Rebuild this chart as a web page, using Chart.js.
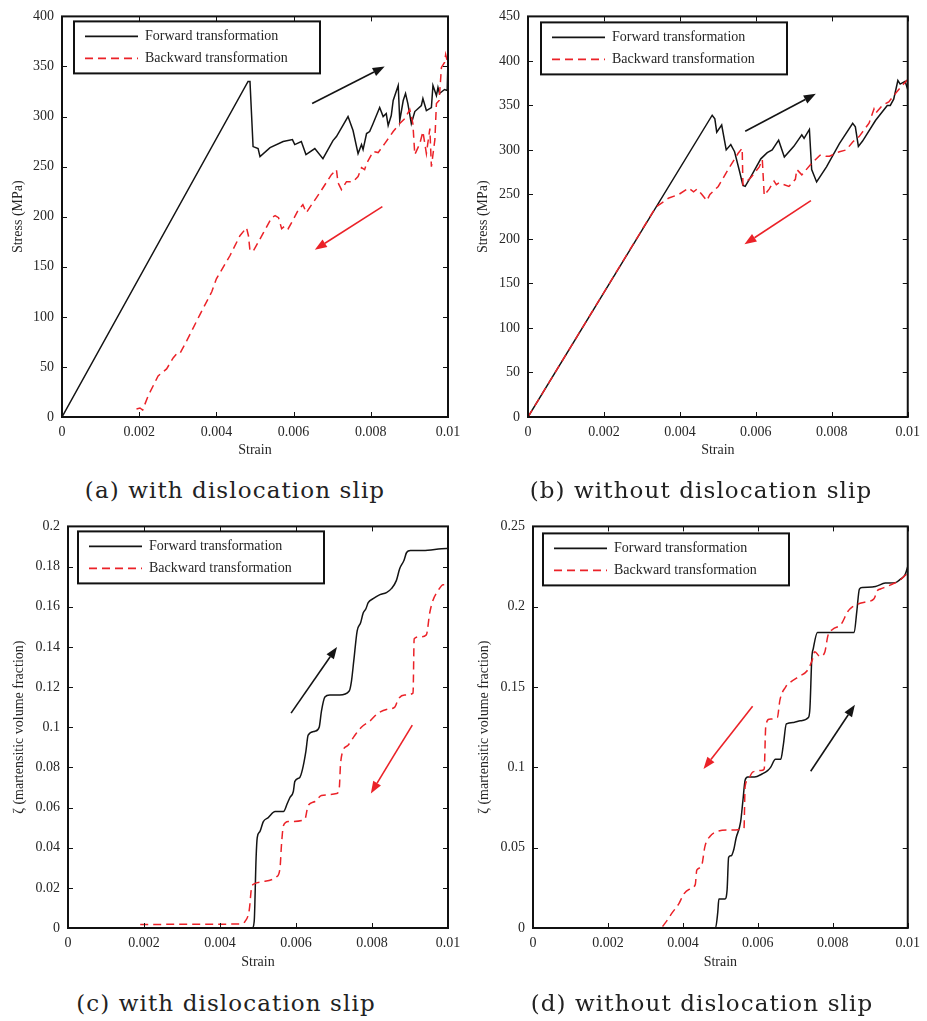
<!DOCTYPE html>
<html>
<head>
<meta charset="utf-8">
<script src="https://cdn.jsdelivr.net/npm/chart.js@4.4.1/dist/chart.umd.min.js"></script>
<style>
  body { margin: 0; background: #fff; }
  #page { position: relative; width: 927px; height: 1021px; overflow: hidden; }
  canvas { position: absolute; }
  .caption {
    position: absolute; width: 440px; text-align: center;
    font-family: 'DejaVu Serif', serif; font-size: 23px; letter-spacing: 1.1px; color: #222;
    line-height: 28px;
  }
</style>
</head>
<body>
<div id="page">
  <canvas id="chartA" width="468" height="470" style="left:0px;top:0px"></canvas>
  <canvas id="chartB" width="461" height="470" style="left:466px;top:0px"></canvas>
  <canvas id="chartC" width="468" height="470" style="left:0px;top:510px"></canvas>
  <canvas id="chartD" width="461" height="470" style="left:466px;top:510px"></canvas>
  <div class="caption" style="left:15px;top:476px">(a) with dislocation slip</div>
  <div class="caption" style="left:481px;top:476px">(b) without dislocation slip</div>
  <div class="caption" style="left:6px;top:989px">(c) with dislocation slip</div>
  <div class="caption" style="left:482px;top:989px">(d) without dislocation slip</div>
</div>
<script>
// --- data ---
const strainTicks = [0, 0.002, 0.004, 0.006, 0.008, 0.01];
const stressTicksA = [0, 50, 100, 150, 200, 250, 300, 350, 400];
const stressTicksB = [0, 50, 100, 150, 200, 250, 300, 350, 400, 450];
const zetaTicksC = [0, 0.02, 0.04, 0.06, 0.08, 0.1, 0.12, 0.14, 0.16, 0.18, 0.2];
const zetaTicksD = [0, 0.05, 0.1, 0.15, 0.2, 0.25];

const legendLabels = ['Forward transformation', 'Backward transformation'];

// (a) stress, with dislocation slip
const aFwdX = [0, 0.00482, 0.00487, 0.00495, 0.00508, 0.00513, 0.00539, 0.00573, 0.00597, 0.00603,
  0.0062, 0.00632, 0.00655, 0.00676, 0.00702, 0.00711, 0.00741, 0.00754, 0.00767, 0.00776,
  0.0078, 0.00789, 0.00797, 0.00806, 0.00823, 0.00832, 0.0084, 0.00845, 0.00853, 0.00858,
  0.00871, 0.00875, 0.00884, 0.0089, 0.00896, 0.00905, 0.00914, 0.00931, 0.00935, 0.00944,
  0.00957, 0.00961, 0.0097, 0.00974, 0.00978, 0.00991, 0.00998, 0.01];
const aFwdY = [0, 335, 335, 270, 268, 260, 269, 275, 277, 272,
  275, 262, 268, 258, 276, 280, 300, 286, 263, 272,
  267, 283, 285, 293, 309, 300, 303, 291, 301, 316,
  331, 296, 316, 323, 313, 293, 305, 311, 318, 306,
  309, 331, 321, 329, 323, 327, 326, 358];
const aBwdX = [0.00193, 0.00202, 0.00209, 0.00223, 0.00249, 0.00271, 0.00288, 0.00297, 0.00305, 0.00323,
  0.00357, 0.00388, 0.004, 0.00435, 0.00461, 0.00478, 0.00483, 0.00487, 0.00496, 0.00522,
  0.00543, 0.00552, 0.00561, 0.00569, 0.00578, 0.00586, 0.00599, 0.00611, 0.00624, 0.00633,
  0.00645, 0.00668, 0.00698, 0.00711, 0.00715, 0.00724, 0.00737, 0.00754, 0.00767, 0.00776,
  0.00784, 0.00789, 0.00806, 0.00819, 0.00836, 0.00858, 0.00875, 0.00888, 0.00901, 0.00909,
  0.00914, 0.00927, 0.00935, 0.00944, 0.00953, 0.00957, 0.00966, 0.0097, 0.00977, 0.00983,
  0.00991, 0.00994, 0.00997, 0.01];
const aBwdY = [8, 9, 7, 21, 41, 48, 59, 63, 63, 76,
  102, 125, 138, 161, 181, 189, 181, 166, 166, 184,
  199, 201, 199, 188, 191, 188, 197, 206, 212, 204,
  211, 224, 242, 247, 234, 227, 235, 235, 240, 249,
  247, 253, 265, 264, 273, 285, 293, 298, 307, 293,
  262, 273, 285, 263, 288, 250, 277, 313, 316, 349,
  354, 362, 357, 356];

// (b) stress, without dislocation slip
const bFwdX = [0, 0.00485, 0.00492, 0.00497, 0.0051, 0.00522, 0.00534, 0.00544, 0.00557, 0.00566,
  0.00572, 0.00587, 0.00613, 0.0063, 0.00643, 0.0066, 0.00675, 0.007, 0.00721, 0.00727,
  0.00741, 0.00747, 0.0076, 0.00786, 0.0082, 0.00855, 0.00862, 0.0087, 0.00881, 0.00915,
  0.00946, 0.00954, 0.00963, 0.00974, 0.0098, 0.00993, 0.01];
const bFwdY = [0, 339, 335, 320, 328, 300, 306, 298, 276, 260,
  259, 270, 290, 297, 300, 311, 292, 304, 317, 313,
  323, 278, 264, 281, 307, 330, 326, 304, 310, 333,
  350, 350, 357, 378, 374, 377, 368];
const bBwdX = [0, 0.00337, 0.00371, 0.00397, 0.00423, 0.00436, 0.00445, 0.00458, 0.00471, 0.00479,
  0.00501, 0.00527, 0.00553, 0.00564, 0.00566, 0.00587, 0.00609, 0.00617, 0.00622, 0.00635,
  0.00648, 0.00654, 0.00661, 0.00687, 0.00704, 0.00708, 0.00721, 0.00747, 0.00769, 0.00777,
  0.00784, 0.00794, 0.0082, 0.00838, 0.00855, 0.00872, 0.00898, 0.00911, 0.00915, 0.00933,
  0.0095, 0.00967, 0.00984, 0.01];
const bBwdY = [0, 236, 246, 250, 257, 253, 256, 250, 243, 250,
  259, 278, 296, 302, 261, 269, 281, 289, 249, 256,
  265, 261, 263, 259, 267, 278, 272, 285, 294, 294,
  293, 293, 298, 300, 309, 315, 330, 346, 341, 350,
  354, 363, 372, 379];

// (c) martensitic volume fraction, with dislocation slip
const cFwdX = [0, 0.00485, 0.0049, 0.00495, 0.00498, 0.00505, 0.00514, 0.00527, 0.00545, 0.00567,
  0.00577, 0.00584, 0.00593, 0.00597, 0.0061, 0.00617, 0.00626, 0.00632, 0.0065, 0.00661,
  0.00667, 0.00676, 0.00689, 0.00715, 0.0074, 0.00746, 0.00752, 0.00761, 0.0077, 0.00777,
  0.00784, 0.0079, 0.00803, 0.00821, 0.00838, 0.00851, 0.00864, 0.00873, 0.00884, 0.00891,
  0.00901, 0.00934, 0.00996, 0.01, 0.01];
const cFwdY = [0, 0, 0.0033, 0.035, 0.045, 0.048, 0.053, 0.055, 0.058, 0.058,
  0.062, 0.065, 0.068, 0.073, 0.075, 0.079, 0.088, 0.096, 0.098, 0.1,
  0.108, 0.115, 0.116, 0.116, 0.118, 0.123, 0.133, 0.148, 0.152, 0.157,
  0.159, 0.162, 0.164, 0.166, 0.167, 0.169, 0.173, 0.179, 0.183, 0.187,
  0.188, 0.188, 0.189, 0.189, 0.171];
const cBwdX = [0.0019, 0.00453, 0.00466, 0.00477, 0.00483, 0.0049, 0.0051, 0.00549, 0.00558, 0.00562,
  0.00567, 0.0058, 0.00623, 0.00632, 0.0065, 0.00667, 0.00707, 0.00714, 0.00717, 0.00723,
  0.00737, 0.00755, 0.00772, 0.00794, 0.00816, 0.00842, 0.0086, 0.00869, 0.00886, 0.00908,
  0.00911, 0.00926, 0.00943, 0.00952, 0.0096, 0.00974, 0.00987, 0.01];
const cBwdY = [0.0018, 0.002, 0.0033, 0.009, 0.02, 0.022, 0.023, 0.0255, 0.03, 0.042,
  0.051, 0.053, 0.054, 0.061, 0.063, 0.066, 0.067, 0.07, 0.081, 0.088,
  0.091, 0.096, 0.1, 0.103, 0.107, 0.109, 0.11, 0.114, 0.116, 0.117,
  0.144, 0.145, 0.146, 0.157, 0.163, 0.168, 0.171, 0.171];

// (d) martensitic volume fraction, without dislocation slip
const dFwdX = [0, 0.00487, 0.00493, 0.00496, 0.00512, 0.00518, 0.00522, 0.00529, 0.00536, 0.00542,
  0.00554, 0.0056, 0.00566, 0.00573, 0.00591, 0.00612, 0.00626, 0.00634, 0.00647, 0.00661,
  0.00668, 0.00676, 0.00696, 0.00713, 0.00735, 0.00739, 0.00744, 0.00748, 0.00759, 0.00857,
  0.00864, 0.00871, 0.00879, 0.00914, 0.0094, 0.00967, 0.0098, 0.00993, 0.01];
const dFwdY = [0, 0, 0.0097, 0.018, 0.018, 0.024, 0.044, 0.045, 0.049, 0.056,
  0.066, 0.079, 0.092, 0.094, 0.094, 0.096, 0.098, 0.1, 0.105, 0.105,
  0.114, 0.127, 0.128, 0.129, 0.131, 0.137, 0.168, 0.174, 0.184, 0.184,
  0.197, 0.211, 0.212, 0.2126, 0.2147, 0.215, 0.217, 0.22, 0.225];
const dBwdX = [0, 0.00339, 0.00354, 0.00372, 0.00389, 0.00402, 0.00416, 0.00433, 0.00437, 0.00449,
  0.00459, 0.00472, 0.0049, 0.00521, 0.00563, 0.00566, 0.00573, 0.00586, 0.00608, 0.00617,
  0.00621, 0.0063, 0.00652, 0.00659, 0.00674, 0.00687, 0.00713, 0.00731, 0.00744, 0.00752,
  0.00766, 0.00779, 0.00787, 0.008, 0.00822, 0.0084, 0.00853, 0.00871, 0.00888, 0.0091,
  0.00919, 0.00927, 0.00945, 0.00958, 0.00976, 0.01];
const dBwdY = [0, 0, 0.0035, 0.0097, 0.015, 0.021, 0.024, 0.027, 0.036, 0.038,
  0.051, 0.057, 0.06, 0.061, 0.062, 0.088, 0.092, 0.097, 0.098, 0.099,
  0.125, 0.13, 0.131, 0.142, 0.15, 0.153, 0.157, 0.16, 0.166, 0.172,
  0.169, 0.172, 0.182, 0.186, 0.189, 0.197, 0.2, 0.202, 0.203, 0.205,
  0.21, 0.211, 0.2126, 0.214, 0.216, 0.221];

// direction arrows (start -> end, in data units)
const arrowsA = [[0.00648, 313, 0.00836, 350, 'fwd'], [0.0083, 210, 0.00655, 167, 'bwd']];
const arrowsB = [[0.00572, 321, 0.00758, 363, 'fwd'], [0.00745, 243, 0.0057, 194, 'bwd']];
const arrowsC = [[0.00587, 0.107, 0.00708, 0.14, 'fwd'], [0.00906, 0.101, 0.00797, 0.067, 'bwd']];
const arrowsD = [[0.00586, 0.138, 0.00455, 0.099, 'bwd'], [0.00741, 0.0976, 0.00859, 0.139, 'fwd']];

// --- styling ---
const BLACK = '#141414';
const RED = '#eb2228';
const TEXT = '#262626';
const SERIF = "'Liberation Serif', 'Times New Roman', serif";

Chart.defaults.font.family = SERIF;
Chart.defaults.color = TEXT;

function pairs(xs, ys) {
    return xs.map((x, i) => ({ x: x, y: ys[i] }));
}

// frame box with inward ticks on all four sides, like a matlab figure
const framePlugin = {
    id: 'frame',
    afterDraw(chart) {
        const { ctx, chartArea: a, scales } = chart;
        ctx.save();
        ctx.strokeStyle = '#111';
        ctx.lineWidth = 1;
        const len = 5;
        ctx.beginPath();
        scales.x.ticks.forEach(t => {
            const px = Math.round(scales.x.getPixelForValue(t.value)) + 0.5;
            ctx.moveTo(px, a.bottom); ctx.lineTo(px, a.bottom - len);
            ctx.moveTo(px, a.top); ctx.lineTo(px, a.top + len);
        });
        scales.y.ticks.forEach(t => {
            const py = Math.round(scales.y.getPixelForValue(t.value)) + 0.5;
            ctx.moveTo(a.left, py); ctx.lineTo(a.left + len, py);
            ctx.moveTo(a.right, py); ctx.lineTo(a.right - len, py);
        });
        ctx.stroke();
        ctx.lineWidth = 2;
        ctx.strokeRect(a.left, a.top, a.right - a.left, a.bottom - a.top);
        ctx.restore();
    }
};

// arrows showing the loading / unloading direction
const arrowPlugin = {
    id: 'arrows',
    afterDatasetsDraw(chart, args, opts) {
        const { ctx, scales } = chart;
        (opts.list || []).forEach(ar => {
            const x1 = scales.x.getPixelForValue(ar[0]), y1 = scales.y.getPixelForValue(ar[1]);
            const x2 = scales.x.getPixelForValue(ar[2]), y2 = scales.y.getPixelForValue(ar[3]);
            const col = ar[4] === 'fwd' ? BLACK : RED;
            const ang = Math.atan2(y2 - y1, x2 - x1);
            const head = 12, half = 4.5;
            const bx = x2 - head * Math.cos(ang), by = y2 - head * Math.sin(ang);
            ctx.save();
            ctx.strokeStyle = col;
            ctx.fillStyle = col;
            ctx.lineWidth = 1.6;
            ctx.beginPath();
            ctx.moveTo(x1, y1);
            ctx.lineTo(bx, by);
            ctx.stroke();
            ctx.beginPath();
            ctx.moveTo(x2, y2);
            ctx.lineTo(bx + half * Math.sin(ang), by - half * Math.cos(ang));
            ctx.lineTo(bx - half * Math.sin(ang), by + half * Math.cos(ang));
            ctx.closePath();
            ctx.fill();
            ctx.restore();
        });
    }
};

// boxed legend in the upper left of the plot
const boxLegendPlugin = {
    id: 'boxLegend',
    afterDraw(chart, args, opts) {
        const { ctx, chartArea: a } = chart;
        const x0 = a.left + opts.dx, y0 = a.top + opts.dy;
        const w = 246, h = 52;
        ctx.save();
        ctx.fillStyle = '#fff';
        ctx.fillRect(x0, y0, w, h);
        ctx.strokeStyle = '#111';
        ctx.lineWidth = 2;
        ctx.strokeRect(x0, y0, w, h);
        ctx.font = '14px ' + SERIF;
        ctx.textBaseline = 'middle';
        chart.data.datasets.forEach((ds, i) => {
            const ly = y0 + 15 + i * 22;
            ctx.strokeStyle = ds.borderColor;
            ctx.lineWidth = 1.6;
            ctx.setLineDash(ds.borderDash || []);
            ctx.beginPath();
            ctx.moveTo(x0 + 11, ly);
            ctx.lineTo(x0 + 64, ly);
            ctx.stroke();
            ctx.setLineDash([]);
            ctx.fillStyle = TEXT;
            ctx.fillText(ds.label, x0 + 71, ly);
        });
        ctx.restore();
    }
};

function makePanel(id, p) {
    const ctx = document.getElementById(id).getContext('2d');
    return new Chart(ctx, {
        type: 'line',
        data: {
            datasets: [{
                label: legendLabels[0],
                data: pairs(p.fx, p.fy),
                borderColor: BLACK,
                borderWidth: 1.5,
                pointRadius: 0,
                tension: 0,
                cubicInterpolationMode: p.smooth ? 'monotone' : 'default',
                order: 2
            }, {
                label: legendLabels[1],
                data: pairs(p.bx, p.by),
                borderColor: RED,
                borderWidth: 1.5,
                borderDash: [8, 5],
                pointRadius: 0,
                tension: 0,
                cubicInterpolationMode: p.smooth ? 'monotone' : 'default',
                order: 1
            }]
        },
        options: {
            responsive: false,
            animation: false,
            devicePixelRatio: 1,
            layout: { padding: { left: 0, top: p.top, right: p.right, bottom: 0 } },
            plugins: {
                legend: { display: false },
                tooltip: { enabled: false },
                arrows: { list: p.arrows },
                boxLegend: { dx: p.legDx, dy: p.legDy }
            },
            scales: {
                x: {
                    type: 'linear',
                    min: 0, max: 0.01,
                    afterBuildTicks: s => { s.ticks = strainTicks.map(v => ({ value: v })); },
                    afterFit: s => { s.height = p.xH; },
                    grid: { display: false, drawTicks: false },
                    border: { display: false },
                    ticks: { font: { size: 14 }, padding: 7, maxRotation: 0, callback: v => String(v) },
                    title: { display: true, text: 'Strain', font: { size: 14 }, padding: { top: 0, bottom: p.xTitlePad } }
                },
                y: {
                    type: 'linear',
                    min: 0, max: p.yMax,
                    afterBuildTicks: s => { s.ticks = p.yTicks.map(v => ({ value: v })); },
                    afterFit: s => { s.width = p.yW; },
                    grid: { display: false, drawTicks: false },
                    border: { display: false },
                    ticks: { font: { size: 14 }, padding: 8, callback: v => String(v) },
                    title: { display: true, text: p.yTitle, font: { size: 14 }, padding: { top: p.yTitlePad, bottom: 0 } }
                }
            }
        },
        plugins: [framePlugin, arrowPlugin, boxLegendPlugin]
    });
}

makePanel('chartA', {
    fx: aFwdX, fy: aFwdY, bx: aBwdX, by: aBwdY, arrows: arrowsA,
    yMax: 400, yTicks: stressTicksA, yTitle: 'Stress (MPa)',
    top: 12, right: 20, yW: 62, xH: 53, xTitlePad: 11, yTitlePad: 9.6,
    legDx: 12, legDy: 5, smooth: false
});
makePanel('chartB', {
    fx: bFwdX, fy: bFwdY, bx: bBwdX, by: bBwdY, arrows: arrowsB,
    yMax: 450, yTicks: stressTicksB, yTitle: 'Stress (MPa)',
    top: 12, right: 13, yW: 62, xH: 53, xTitlePad: 11, yTitlePad: 8.6,
    legDx: 13, legDy: 6, smooth: false
});
makePanel('chartC', {
    fx: cFwdX, fy: cFwdY, bx: cBwdX, by: cBwdY, arrows: arrowsC,
    yMax: 0.2, yTicks: zetaTicksC, yTitle: 'ζ (martensitic volume fraction)',
    top: 13, right: 20, yW: 68, xH: 52, xTitlePad: 9, yTitlePad: 10.6,
    legDx: 10, legDy: 5, smooth: true
});
makePanel('chartD', {
    fx: dFwdX, fy: dFwdY, bx: dBwdX, by: dBwdY, arrows: arrowsD,
    yMax: 0.25, yTicks: zetaTicksD, yTitle: 'ζ (martensitic volume fraction)',
    top: 13, right: 13, yW: 67, xH: 52, xTitlePad: 9, yTitlePad: 9.6,
    legDx: 10, legDy: 7, smooth: true
});
</script>
</body>
</html>
